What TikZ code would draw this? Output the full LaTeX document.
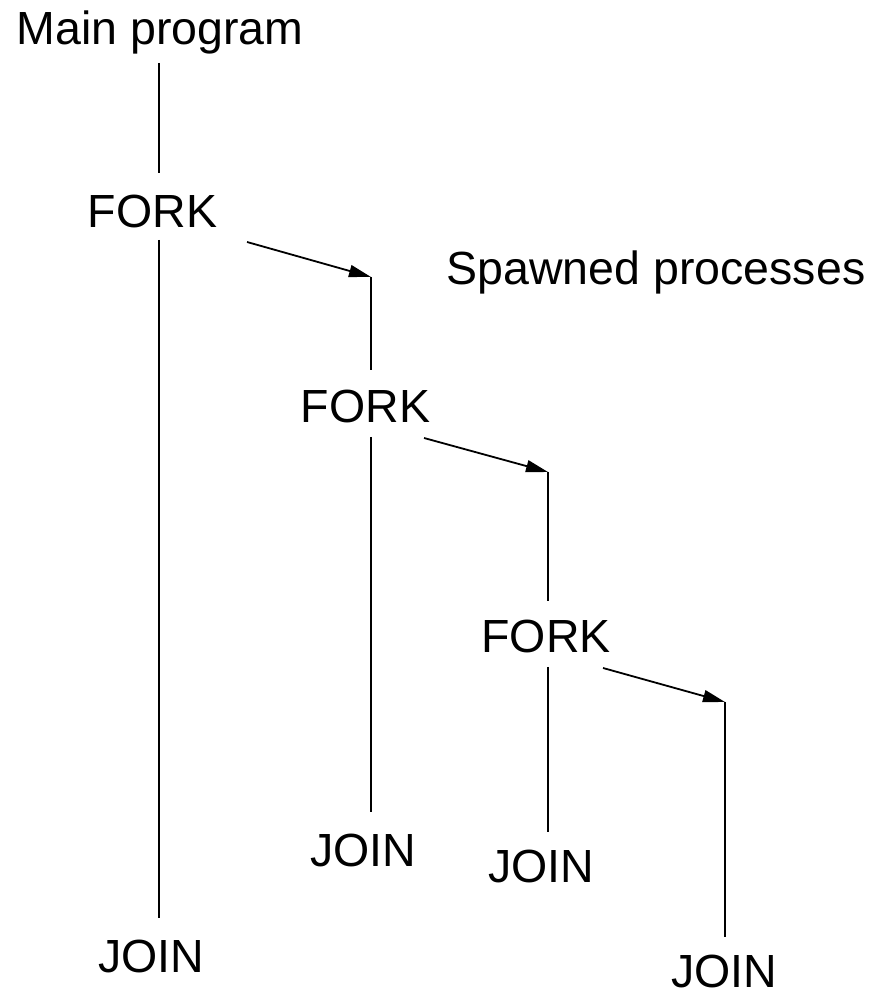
\documentclass[tikz,border=0pt]{standalone}
\usepackage{fontspec}
\setmainfont{Liberation Sans}
\usetikzlibrary{arrows.meta}
\begin{document}
\begin{tikzpicture}[x=1pt,y=1pt,
  lbl/.style={inner sep=0pt,anchor=base,font=\fontsize{46.5}{50}\selectfont},
  wire/.style={line width=1.8pt},
  spawn/.style={line width=1.8pt,-{Triangle[length=22pt,width=12pt]}}]
\useasboundingbox (0,0) rectangle (876,992);
% labels (y = 992 - pixel baseline)
\node[lbl] (main) at (160,947) {Main program};
\node[lbl] (fork1) at (152.5,764) {FORK};
\node[lbl] (spawned) at (656,707) {Spawned processes};
\node[lbl] (fork2) at (365.5,569) {FORK};
\node[lbl] (fork3) at (546,339) {FORK};
\node[lbl] (join1) at (151,19) {JOIN};
\node[lbl] (join2) at (363.5,125) {JOIN};
\node[lbl] (join3) at (541,109) {JOIN};
\node[lbl] (join4) at (724.5,5) {JOIN};
% line end points
\coordinate (m1) at (159,929);
\coordinate (m2) at (159,819);
\coordinate (m3) at (159,752);
\coordinate (m4) at (159,74);
\coordinate (a1) at (247,750);
\coordinate (p1) at (371,715);
\coordinate (p2) at (371,622);
\coordinate (p3) at (371,555);
\coordinate (p4) at (371,180);
\coordinate (a2) at (424,554);
\coordinate (q1) at (548,520);
\coordinate (q2) at (548,391);
\coordinate (q3) at (548,325);
\coordinate (q4) at (548,160);
\coordinate (a3) at (603,324);
\coordinate (r1) at (725,290);
\coordinate (r2) at (725,55);
% main program
\draw[wire] (m1) -- (m2);
\draw[wire] (m3) -- (m4);
% first spawned
\draw[spawn] (a1) -- (p1);
\draw[wire] (p1) -- (p2);
\draw[wire] (p3) -- (p4);
% second spawned
\draw[spawn] (a2) -- (q1);
\draw[wire] (q1) -- (q2);
\draw[wire] (q3) -- (q4);
% third spawned
\draw[spawn] (a3) -- (r1);
\draw[wire] (r1) -- (r2);
\end{tikzpicture}
\end{document}
